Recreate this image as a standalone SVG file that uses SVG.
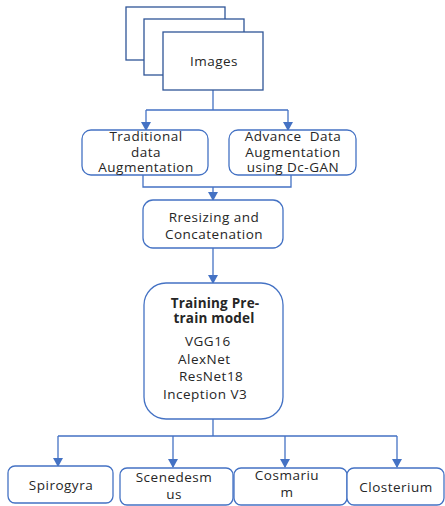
<svg xmlns="http://www.w3.org/2000/svg" width="445" height="506" viewBox="0 0 445 506">
<style>
.box{fill:#fff;stroke:#4472C4;stroke-width:1.3}
.img{fill:#fff;stroke:#2F5597;stroke-width:1.3}
.ln{fill:none;stroke:#4472C4;stroke-width:1.3}
text{font-family:"Open Sans","Liberation Sans",sans-serif;font-size:13.5px;letter-spacing:0.5px;fill:#262626;text-anchor:middle}
.b{font-weight:bold;letter-spacing:0.2px}
.s{text-anchor:start}
</style>
<defs>
<marker id="ah" markerWidth="10" markerHeight="10" refX="8" refY="5" orient="auto" markerUnits="userSpaceOnUse">
<path d="M0,0 L9,5 L0,10 z" fill="#4472C4"/>
</marker>
</defs>
<rect width="445" height="506" fill="#fff"/>
<g id="connectors">
<path class="ln" d="M213,90 V110 M146,110 H288"/>
<path class="ln" d="M146,110 V130" marker-end="url(#ah)"/>
<path class="ln" d="M288,110 V130" marker-end="url(#ah)"/>
<path class="ln" d="M143,175 V187 H291 V175"/>
<path class="ln" d="M213,187 V200" marker-end="url(#ah)"/>
<path class="ln" d="M213,248 V283" marker-end="url(#ah)"/>
<path class="ln" d="M213,419 V436 M58,436 H397"/>
<path class="ln" d="M58,436 V466" marker-end="url(#ah)"/>
<path class="ln" d="M173,436 V467" marker-end="url(#ah)"/>
<path class="ln" d="M285,436 V467" marker-end="url(#ah)"/>
<path class="ln" d="M397,436 V467" marker-end="url(#ah)"/>
</g>
<g id="images">
<rect class="img" x="126" y="7" width="99" height="53"/>
<rect class="img" x="144" y="19" width="100" height="56"/>
<rect class="img" x="163" y="32" width="100" height="58"/>
<text x="214" y="66">Images</text>
</g>
<g id="traditional">
<rect class="box" x="82" y="130" width="126" height="45" rx="9"/>
<text x="146" y="141">Traditional</text>
<text x="146" y="157">data</text>
<text x="146" y="172">Augmentation</text>
</g>
<g id="advance">
<rect class="box" x="229" y="130" width="127" height="45" rx="9"/>
<text x="293" y="141" xml:space="preserve">Advance  Data</text>
<text x="293" y="157">Augmentation</text>
<text x="293" y="172">using Dc-GAN</text>
</g>
<g id="resizing">
<rect class="box" x="143" y="200" width="140" height="48" rx="10"/>
<text x="214" y="222">Rresizing and</text>
<text x="214" y="239">Concatenation</text>
</g>
<g id="training">
<rect class="box" x="144" y="283" width="139" height="136" rx="22"/>
<text class="b" x="215" y="308">Training Pre-</text>
<text class="b" x="214" y="323">train model</text>
<text class="s" x="185" y="346">VGG16</text>
<text class="s" x="178" y="364">AlexNet</text>
<text class="s" x="179" y="381">ResNet18</text>
<text class="s" x="163" y="399">Inception V3</text>
</g>
<g id="spirogyra">
<rect class="box" x="8" y="466" width="105" height="37" rx="7"/>
<text x="61" y="490">Spirogyra</text>
</g>
<g id="scenedesmus">
<rect class="box" x="120" y="468" width="113" height="37" rx="7"/>
<text x="174" y="482">Scenedesm</text>
<text x="174" y="499">us</text>
</g>
<g id="cosmarium">
<rect class="box" x="234" y="468" width="113" height="37" rx="7"/>
<text x="287" y="480">Cosmariu</text>
<text x="287" y="497">m</text>
</g>
<g id="closterium">
<rect class="box" x="347" y="468" width="97" height="37" rx="7"/>
<text x="396" y="492">Closterium</text>
</g>
</svg>
